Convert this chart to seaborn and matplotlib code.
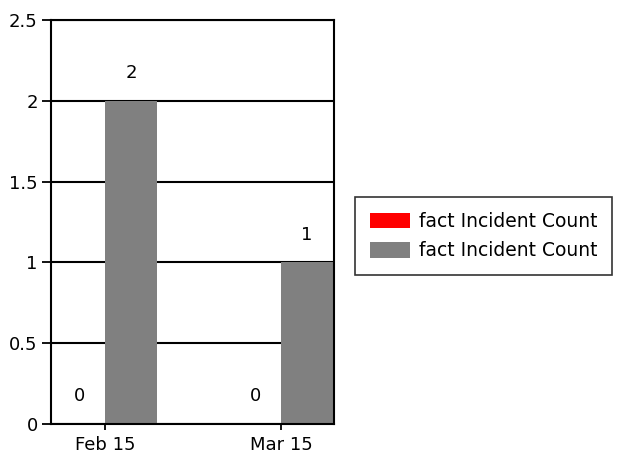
import matplotlib
matplotlib.use("Agg")
import matplotlib.pyplot as plt
import seaborn as sns
import pandas as pd

categories = ["Feb 15", "Mar 15"]
series_names = ["fact Incident Count", "fact Incident Count"]
series_red = [0, 0]
series_gray = [2, 1]
colors = ["#ff0000", "#808080"]
yticks = [0, 0.5, 1, 1.5, 2, 2.5]
ytick_labels = ["0", "0.5", "1", "1.5", "2", "2.5"]

rows = []
for i, c in enumerate(categories):
    rows.append({"cat": c, "series": "s0", "value": series_red[i]})
    rows.append({"cat": c, "series": "s1", "value": series_gray[i]})
df = pd.DataFrame(rows)

sns.set_style("white")
plt.rcParams["font.family"] = ["DejaVu Sans"]

FS = 13

fig = plt.figure(figsize=(6.28, 4.59), dpi=100)
ax = fig.add_axes([51 / 628, 35 / 459, (334 - 51) / 628, (424 - 20) / 459])

sns.barplot(data=df, x="cat", y="value", hue="series", order=categories,
            hue_order=["s0", "s1"], palette=colors, width=0.59,
            saturation=1, ax=ax, legend=True, errorbar=None, linewidth=0)

ax.set_xlim(-0.307, 1.301)
ax.set_ylim(0, 2.5)
ax.set_yticks(yticks)
ax.set_yticklabels(ytick_labels)
ax.set_xlabel("")
ax.set_ylabel("")
ax.set_axisbelow(True)
ax.yaxis.grid(True, color="black", linewidth=1.5)
ax.xaxis.grid(False)
for s in ax.spines.values():
    s.set_visible(True)
    s.set_color("black")
    s.set_linewidth(1.5)
ax.tick_params(axis="y", length=6.5, width=1.3, color="black",
               labelsize=FS, labelcolor="black", direction="out",
               left=True, pad=3)
ax.tick_params(axis="x", length=4, width=1.3, color="black",
               labelsize=FS, labelcolor="black", direction="out",
               bottom=True, pad=4.5)

for cont in ax.containers:
    ax.bar_label(cont, fmt="%g", padding=13.5, fontsize=FS, color="black")

handles, _ = ax.get_legend_handles_labels()
ax.get_legend().remove()
leg = fig.legend(handles, series_names, loc="upper left",
                 bbox_to_anchor=(355 / 628, 1 - 197 / 459),
                 frameon=True, fancybox=False, edgecolor="black",
                 fontsize=13.5, labelcolor="black",
                 handlelength=2.13, handleheight=0.9,
                 borderaxespad=0, borderpad=0.8, labelspacing=0.55,
                 handletextpad=0.48)
leg.get_frame().set_linewidth(1.2)

fig.savefig("out.png", dpi=100, facecolor="white")
